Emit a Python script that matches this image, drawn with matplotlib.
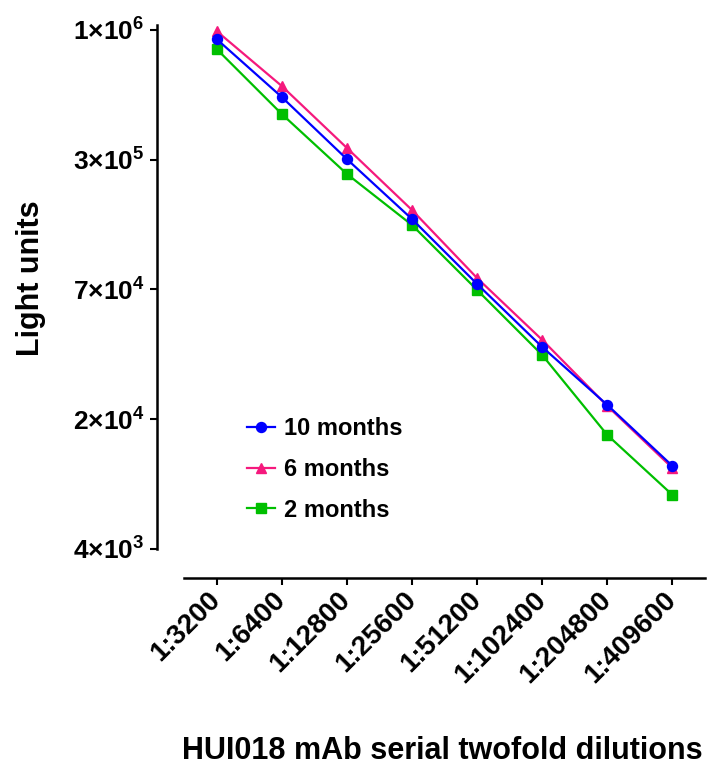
import matplotlib
matplotlib.use("Agg")
import matplotlib.pyplot as plt
import numpy as np

plt.rcParams['font.family'] = ['Liberation Sans', 'DejaVu Sans']
plt.rcParams['font.weight'] = 'bold'
plt.rcParams['mathtext.fontset'] = 'custom'
plt.rcParams['mathtext.rm'] = 'Liberation Sans:bold'
plt.rcParams['mathtext.bf'] = 'Liberation Sans:bold'
plt.rcParams['mathtext.default'] = 'regular'

dilutions = ['1:3200', '1:6400', '1:12800', '1:25600', '1:51200',
             '1:102400', '1:204800', '1:409600']
months10 = [9.08e5, 4.90e5, 2.53e5, 1.336e5, 6.69e4, 3.42e4, 1.845e4, 9.64e3]
months6 = [9.89e5, 5.51e5, 2.85e5, 1.471e5, 7.13e4, 3.69e4, 1.825e4, 9.43e3]
months2 = [8.17e5, 4.09e5, 2.16e5, 1.254e5, 6.28e4, 3.14e4, 1.34e4, 7.08e3]

ytick_vals = [10 ** 6, 10 ** 5.4, 10 ** 4.8, 10 ** 4.2, 10 ** 3.6]
ytick_labels = ['1×10$^{6}$', '3×10$^{5}$', '7×10$^{4}$', '2×10$^{4}$', '4×10$^{3}$']

W, H = 710, 767
fig = plt.figure(figsize=(W / 100, H / 100), dpi=100)
ax = fig.add_axes([184 / W, 1 - 549 / H, (705 - 184) / W, (549 - 25) / H])

# GraphPad-style detached axes (do this before styling ticks)
for s in ['top', 'right']:
    ax.spines[s].set_visible(False)
ax.spines['left'].set_position(('outward', 19.5))
ax.spines['bottom'].set_position(('outward', 21))
ax.spines['left'].set_linewidth(1.8)
ax.spines['bottom'].set_linewidth(1.8)

x = np.arange(len(dilutions))
ax.plot(x, months10, color='#0000FF', marker='o', ms=7.2, lw=1.6, label='10 months', zorder=4)
ax.plot(x, months6, color='#F5197D', marker='^', ms=7.2, lw=1.6, label='6 months', zorder=3)
ax.plot(x, months2, color='#00BF00', marker='s', ms=6.6, lw=1.6, label='2 months', zorder=2)

ax.set_yscale('log')
ax.set_ylim(10 ** 3.6, 10 ** 6.023)
ax.set_xlim(-0.5, 7.5)
ax.yaxis.set_minor_locator(matplotlib.ticker.NullLocator())
ax.set_yticks(ytick_vals)
ax.set_yticklabels(ytick_labels, fontsize=19, fontweight='bold')
ax.set_xticks(x)
ax.set_xticklabels(dilutions, rotation=45, ha='right', va='center', rotation_mode='anchor',
                   fontsize=20, fontweight='bold')
ax.tick_params(axis='both', width=1.5, length=5, direction='out')
ax.tick_params(axis='y', pad=4)
ax.tick_params(axis='x', pad=8)

ax.set_ylabel('Light units', fontsize=22, fontweight='bold')
ax.yaxis.set_label_coords(-0.265, 0.517)
ax.set_xlabel('HUI018 mAb serial twofold dilutions', fontsize=22, fontweight='bold')
ax.xaxis.set_label_coords(0.495, -0.357)

ax.legend(loc='center left', bbox_to_anchor=((247 - 184) / 521, 0.152), frameon=False,
          borderpad=0, borderaxespad=0, handlelength=1.2, handletextpad=0.35,
          labelspacing=0.75, prop={'weight': 'bold', 'size': 17})

fig.savefig('out.png', dpi=100)
